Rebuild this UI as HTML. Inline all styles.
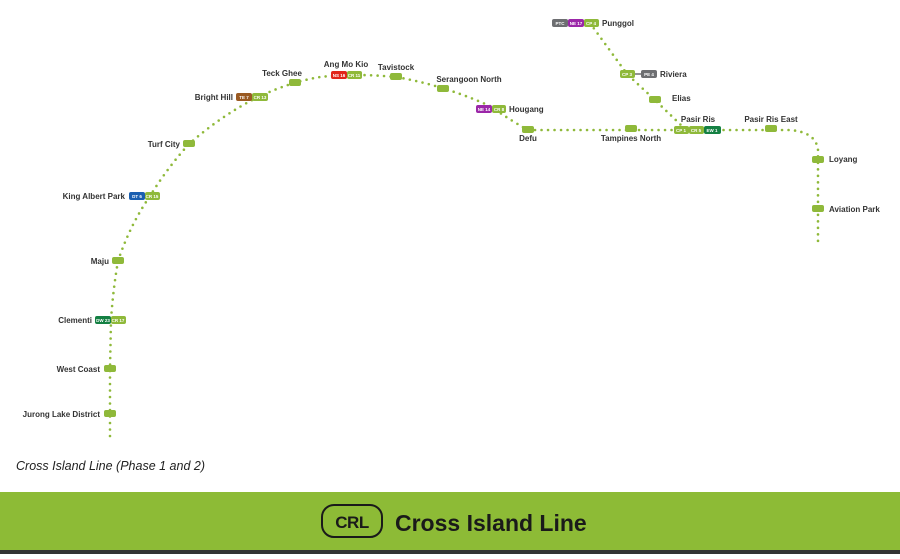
<!DOCTYPE html>
<html><head><meta charset="utf-8"><style>
body{margin:0;width:900px;height:554px;background:#fff;overflow:hidden;font-family:"Liberation Sans",sans-serif}
</style></head><body>
<svg width="900" height="554" xmlns="http://www.w3.org/2000/svg" font-family="Liberation Sans, sans-serif">
<g fill="none" stroke="#8fb93a" stroke-width="2.6" stroke-linecap="round" stroke-dasharray="0 6.5">
<path d="M110 436 L110 414 L110 369 L111 320 Q113 290 118 261 Q130 225 150 196 Q168 167 189 144 Q222 115 258 97 Q290 82 320 77 Q354 73 396 77 Q443 85 490 106 Q510 120 528 130 L690 130 L790 130 Q816 132 818 150 L818 246"/>
<path d="M590 23 L627 74 L655 100 L683 127"/>
</g>
<g font-size="6" font-weight="bold" fill="#fff" text-anchor="middle">
<rect x="104" y="410" width="12" height="7" rx="2" fill="#8fb93a"/>
<rect x="104" y="365" width="12" height="7" rx="2" fill="#8fb93a"/>
<rect x="95" y="316" width="16" height="8" rx="2" fill="#148043"/><rect x="111" y="316" width="15" height="8" rx="2" fill="#8fb93a"/>
<rect x="112" y="257" width="12" height="7" rx="2" fill="#8fb93a"/>
<rect x="129" y="192" width="16" height="8" rx="2" fill="#1a5fb0"/><rect x="145" y="192" width="15" height="8" rx="2" fill="#8fb93a"/>
<rect x="183" y="140" width="12" height="7" rx="2" fill="#8fb93a"/>
<rect x="236" y="93" width="16" height="8" rx="2" fill="#9a5a22"/><rect x="252" y="93" width="16" height="8" rx="2" fill="#8fb93a"/>
<rect x="289" y="79" width="12" height="7" rx="2" fill="#8fb93a"/>
<rect x="331" y="71" width="16" height="8" rx="2" fill="#e1251b"/><rect x="347" y="71" width="15" height="8" rx="2" fill="#8fb93a"/>
<rect x="390" y="73" width="12" height="7" rx="2" fill="#8fb93a"/>
<rect x="437" y="85" width="12" height="7" rx="2" fill="#8fb93a"/>
<rect x="476" y="105" width="16" height="8" rx="2" fill="#9b27a8"/><rect x="492" y="105" width="14" height="8" rx="2" fill="#8fb93a"/>
<rect x="522" y="126" width="12" height="7" rx="2" fill="#8fb93a"/>
<rect x="625" y="125" width="12" height="7" rx="2" fill="#8fb93a"/>
<rect x="674" y="126" width="15" height="8" rx="2" fill="#8fb93a"/><rect x="689" y="126" width="15" height="8" rx="2" fill="#8fb93a"/><rect x="704" y="126" width="17" height="8" rx="2" fill="#148043"/>
<rect x="765" y="125" width="12" height="7" rx="2" fill="#8fb93a"/>
<rect x="812" y="156" width="12" height="7" rx="2" fill="#8fb93a"/>
<rect x="812" y="205" width="12" height="7" rx="2" fill="#8fb93a"/>
<rect x="552" y="19" width="16" height="8" rx="2" fill="#6d6e71"/><rect x="568" y="19" width="16" height="8" rx="2" fill="#9b27a8"/><rect x="584" y="19" width="15" height="8" rx="2" fill="#8fb93a"/>
<rect x="620" y="70" width="15" height="8" rx="2" fill="#8fb93a"/><line x1="635" y1="74" x2="641" y2="74" stroke="#6d6e71" stroke-width="1.5"/><rect x="641" y="70" width="16" height="8" rx="2" fill="#6d6e71"/>
<rect x="649" y="96" width="12" height="7" rx="2" fill="#8fb93a"/>
<g font-size="4.5">
<text x="103" y="322">DW 23</text><text x="118" y="322">CR 17</text>
<text x="137" y="198">DT 6</text><text x="152" y="198">CR 15</text>
<text x="244" y="99">TE 7</text><text x="260" y="99">CR 13</text>
<text x="339" y="77">NS 16</text><text x="354" y="77">CR 11</text>
<text x="484" y="111">NE 14</text><text x="499" y="111">CR 8</text>
<text x="681" y="132">CP 1</text><text x="696" y="132">CR 5</text><text x="712" y="132">EW 1</text>
<text x="560" y="25">PTC</text><text x="576" y="25">NE 17</text><text x="591" y="25">CP 4</text>
<text x="627" y="76">CP 3</text><text x="649" y="76">PE 4</text>
</g>
</g>
<g font-size="8" fill="#333" font-weight="bold">
<text x="100" y="417" text-anchor="end">Jurong Lake District</text>
<text x="100" y="372" text-anchor="end">West Coast</text>
<text x="92" y="323" text-anchor="end">Clementi</text>
<text x="109" y="264" text-anchor="end">Maju</text>
<text x="125" y="199" text-anchor="end">King Albert Park</text>
<text x="180" y="147" text-anchor="end">Turf City</text>
<text x="233" y="100" text-anchor="end">Bright Hill</text>
<text x="282" y="76" text-anchor="middle">Teck Ghee</text>
<text x="346" y="67" text-anchor="middle">Ang Mo Kio</text>
<text x="396" y="70" text-anchor="middle">Tavistock</text>
<text x="469" y="82" text-anchor="middle">Serangoon North</text>
<text x="509" y="112">Hougang</text>
<text x="528" y="141" text-anchor="middle">Defu</text>
<text x="631" y="141" text-anchor="middle">Tampines North</text>
<text x="698" y="122" text-anchor="middle">Pasir Ris</text>
<text x="771" y="122" text-anchor="middle">Pasir Ris East</text>
<text x="829" y="162">Loyang</text>
<text x="829" y="212">Aviation Park</text>
<text x="602" y="26">Punggol</text>
<text x="660" y="77">Riviera</text>
<text x="672" y="101">Elias</text>
</g>
<text x="16" y="470" font-size="12.5" font-style="italic" fill="#222">Cross Island Line (Phase 1 and 2)</text>
<rect x="0" y="492" width="900" height="58" fill="#8dbb36"/>
<rect x="0" y="550" width="900" height="4" fill="#333"/>
<rect x="322" y="505" width="60" height="32" rx="12" fill="none" stroke="#1a1a1a" stroke-width="2"/>
<text x="352" y="528" font-size="17" font-weight="bold" text-anchor="middle" fill="#1a1a1a" letter-spacing="-0.5">CRL</text>
<text x="395" y="531" font-size="23" font-weight="bold" fill="#1a1a1a">Cross Island Line</text>
</svg>
</body></html>
